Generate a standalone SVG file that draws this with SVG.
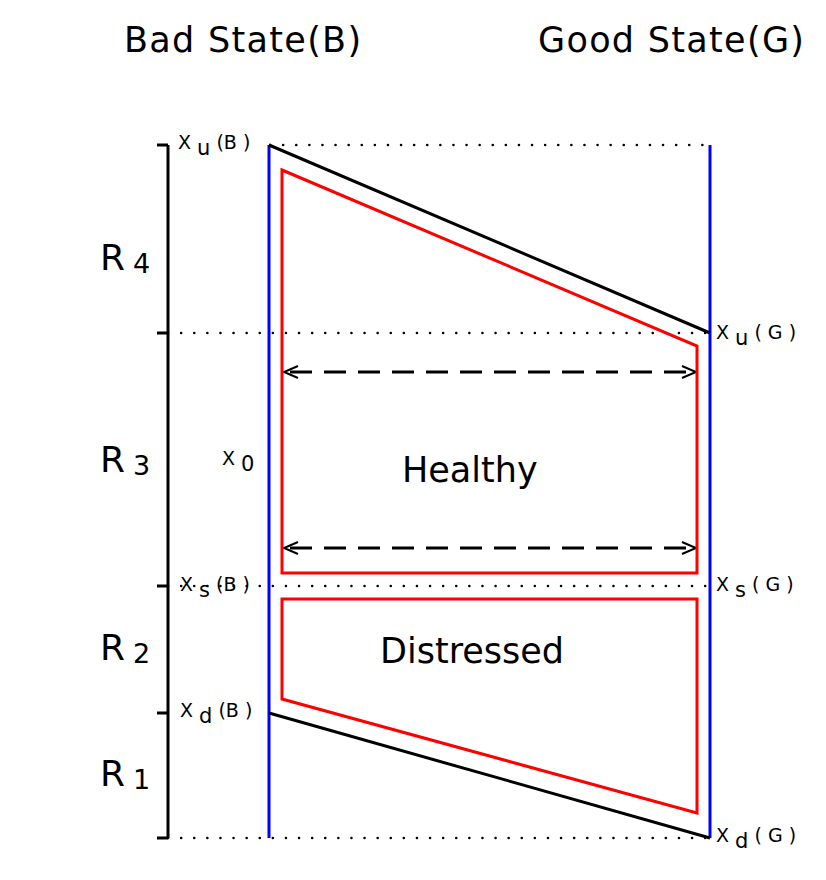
<svg xmlns="http://www.w3.org/2000/svg" width="826" height="880" viewBox="0 0 826 880">
<style>
text{font-family:"DejaVu Sans",sans-serif;fill:#000}
.t{font-size:35px;letter-spacing:1.3px}.r{font-size:36px}.sm{font-size:19px}.l{font-size:35px}
.dot{stroke:#000;stroke-width:2.5;stroke-dasharray:0.1 13;stroke-linecap:round;fill:none}
.red{fill:none;stroke:#f00;stroke-width:3}
.ax{stroke:#000;stroke-width:3;fill:none}
.ah{fill:none;stroke:#000;stroke-width:2}
</style>
<rect width="826" height="880" fill="#fff"/>
<text class="t" x="124" y="52">Bad State(B)</text>
<text class="t" x="538" y="52">Good State(G)</text>
<g id="connectors">
<path class="dot" d="M270 145H710M168 333H710M168 586H710M168 838H710"/>
<path class="ax" d="M168 145V838M157 145H168M157 333H168M157 586H168M157 713H168M157 838H168"/>
<path d="M269 145V838M710 145V838" stroke="#00f" stroke-width="3"/>
<path d="M269 145L710 333M269 713L710 838" stroke="#000" stroke-width="3"/>
<path d="M290 372H692M290 548H692" stroke="#000" stroke-width="3" stroke-dasharray="22 12"/>
<path class="ah" d="M298 366L284 372L298 378M682 366L696 372L682 378M298 542L284 548L298 554M682 542L696 548L682 554"/>
</g>
<g id="healthy"><path class="red" d="M282 170L697 346V573H282Z"/><text class="l" x="402" y="482">Healthy</text></g>
<g id="distressed"><path class="red" d="M282 599H697V813L282 699Z"/><text class="l" x="380" y="663">Distressed</text></g>
<g id="labels">
<text class="r" x="100" y="270">R<tspan dx="8" dy="3" font-size="27">4</tspan></text>
<text class="r" x="100" y="472">R<tspan dx="8" dy="3" font-size="27">3</tspan></text>
<text class="r" x="100" y="660">R<tspan dx="8" dy="3" font-size="27">2</tspan></text>
<text class="r" x="100" y="786">R<tspan dx="8" dy="3" font-size="27">1</tspan></text>
<text class="sm" x="178" y="149">X <tspan dy="6" font-size="21">u</tspan><tspan dy="-6"> (B )</tspan></text>
<text class="sm" x="180" y="591">X <tspan dy="6" font-size="21">s</tspan><tspan dy="-6"> (B )</tspan></text>
<text class="sm" x="180" y="717">X <tspan dy="6" font-size="21">d</tspan><tspan dy="-6"> (B )</tspan></text>
<text class="sm" x="222" y="465">X <tspan dy="6" font-size="21">0</tspan></text>
<text class="sm" x="716" y="339">X <tspan dy="6" font-size="21">u</tspan><tspan dy="-6"> ( G )</tspan></text>
<text class="sm" x="716" y="591">X <tspan dy="6" font-size="21">s</tspan><tspan dy="-6"> ( G )</tspan></text>
<text class="sm" x="716" y="842">X <tspan dy="6" font-size="21">d</tspan><tspan dy="-6"> ( G )</tspan></text>
</g>
</svg>
